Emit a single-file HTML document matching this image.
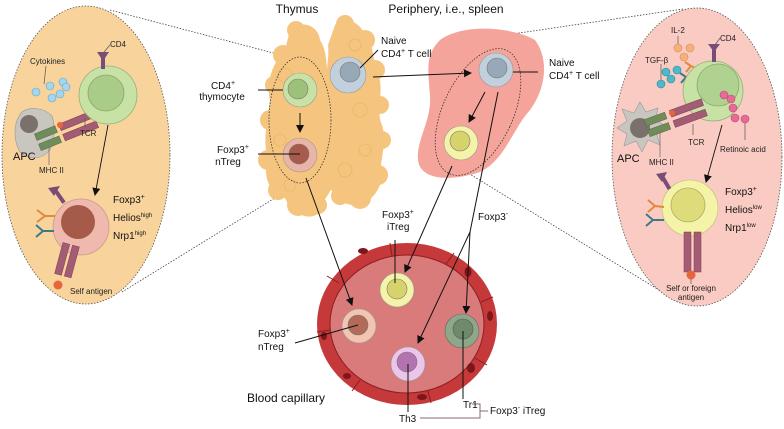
<!DOCTYPE html>
<html><head><meta charset="utf-8"><style>
html,body{margin:0;padding:0;background:#fff;}
svg{display:block;font-family:"Liberation Sans",sans-serif;}
</style></head><body>
<svg width="784" height="429" viewBox="0 0 784 429" xmlns="http://www.w3.org/2000/svg">
<defs>
<marker id="ah" markerWidth="8" markerHeight="8" refX="7" refY="4" orient="auto" markerUnits="userSpaceOnUse"><path d="M0,0 L8,4 L0,8 z" fill="#111"/></marker>
</defs>
<g stroke="#444" stroke-width="0.8" stroke-dasharray="1.5,1.5" fill="none">
<line x1="110" y1="10" x2="300" y2="60"/>
<line x1="122" y1="292" x2="296" y2="185"/>
<line x1="683" y1="9" x2="437" y2="45"/>
<line x1="672" y1="298" x2="455" y2="165"/>
</g>
<ellipse cx="86" cy="155" rx="84" ry="149" fill="#f8d49c" stroke="#555" stroke-width="0.8" stroke-dasharray="1.5,1.5"/>
<ellipse cx="697" cy="157" rx="85" ry="149" fill="#f9cbc2" stroke="#555" stroke-width="0.8" stroke-dasharray="1.5,1.5"/>

<g fill="#f5c57f">
<path d="M290,30 C300,20 318,24 320,40 C330,55 325,80 330,100 C335,120 330,150 335,170 C338,190 320,200 318,214 C305,222 290,210 285,198 C270,195 262,175 268,160 C262,140 268,120 270,100 C265,80 275,60 285,50 Z"/>
<path d="M335,25 C345,15 360,22 365,35 C375,45 372,60 378,75 C385,90 375,110 382,125 C388,145 378,165 380,185 C372,205 352,210 340,200 C330,195 325,175 330,160 C325,140 330,120 327,100 C323,80 330,60 328,45 Z"/>
<circle cx="296" cy="30" r="9"/><circle cx="283" cy="55" r="10"/><circle cx="274" cy="85" r="9"/><circle cx="270" cy="120" r="10"/><circle cx="268" cy="160" r="10"/><circle cx="278" cy="190" r="10"/><circle cx="298" cy="205" r="11"/><circle cx="318" cy="205" r="9"/>
<circle cx="345" cy="24" r="9"/><circle cx="365" cy="40" r="10"/><circle cx="375" cy="70" r="10"/><circle cx="380" cy="105" r="9"/><circle cx="382" cy="140" r="9"/><circle cx="378" cy="175" r="10"/><circle cx="360" cy="198" r="11"/><circle cx="340" cy="196" r="9"/>
</g>
<g fill="none" stroke="#eab466" stroke-width="0.8">
<circle cx="285" cy="75" r="7"/><circle cx="280" cy="140" r="6"/><circle cx="290" cy="185" r="6"/><circle cx="360" cy="110" r="7"/><circle cx="365" cy="150" r="6"/><circle cx="345" cy="170" r="7"/><circle cx="355" cy="45" r="6"/>
</g>
<path d="M440,40 C465,22 515,28 535,40 C550,60 545,90 530,110 C512,130 505,160 480,172 C450,182 420,180 418,160 C416,140 432,120 430,95 C428,70 425,55 440,40 Z" fill="#f4a49a"/>

<ellipse cx="300" cy="120" rx="31" ry="63" fill="none" stroke="#333" stroke-width="0.8" stroke-dasharray="1.5,1.5"/>
<ellipse cx="478" cy="112" rx="35" ry="68" transform="rotate(25 478 112)" fill="none" stroke="#333" stroke-width="0.8" stroke-dasharray="1.5,1.5"/>

<circle cx="300" cy="90" r="17" fill="#c8e2a6" stroke="#999" stroke-width="0.6"/><circle cx="298" cy="89" r="10" fill="#9dc07a" stroke="#777" stroke-width="0.6"/>
<circle cx="300" cy="155" r="17" fill="#eab4a6" stroke="#999" stroke-width="0.6"/><circle cx="299" cy="154" r="10" fill="#a85b4c" stroke="#777" stroke-width="0.6"/>
<circle cx="348" cy="75" r="18" fill="#c2d0de" stroke="#999" stroke-width="0.6"/><circle cx="350" cy="72" r="10" fill="#97a8b6" stroke="#777" stroke-width="0.6"/>
<circle cx="496" cy="70" r="17" fill="#c2d0de" stroke="#999" stroke-width="0.6"/><circle cx="497" cy="68" r="10" fill="#97a8b6" stroke="#777" stroke-width="0.6"/>
<circle cx="461" cy="143" r="17" fill="#f4f3a8" stroke="#999" stroke-width="0.6"/><circle cx="460" cy="141" r="10" fill="#d6d26c" stroke="#777" stroke-width="0.6"/>

<g stroke="#111" stroke-width="1" fill="none">
<line x1="300" y1="113" x2="300" y2="132" marker-end="url(#ah)"/>
<line x1="373" y1="77" x2="471" y2="73" marker-end="url(#ah)"/>
<line x1="485" y1="92" x2="469" y2="122" marker-end="url(#ah)"/>
<line x1="258" y1="90" x2="283" y2="90"/>
<line x1="258" y1="154" x2="300" y2="154"/>
<line x1="360" y1="68" x2="378" y2="50"/>
<line x1="513" y1="72" x2="538" y2="72"/>
</g>

<ellipse cx="407" cy="324" rx="90" ry="81" fill="#c5393a"/>
<ellipse cx="407" cy="324" rx="77" ry="69" fill="#d97b7a" stroke="#8d1e1f" stroke-width="1"/>
<g stroke="#8d1e1f" stroke-width="1" fill="none">
<path d="M339,283 L327,276"/><path d="M392,256 L390,243"/><path d="M446,264 L454,253"/><path d="M481,302 L493,297"/><path d="M475,358 L487,365"/><path d="M428,391 L431,403"/><path d="M360,380 L352,391"/><path d="M330,330 L317,332"/>
</g>
<g fill="#7c1618">
<ellipse cx="363" cy="251" rx="5" ry="3"/><ellipse cx="468" cy="272" rx="3.5" ry="5"/><ellipse cx="490" cy="316" rx="3" ry="5"/><ellipse cx="471" cy="368" rx="4" ry="5"/><ellipse cx="422" cy="397" rx="5" ry="3"/><ellipse cx="347" cy="376" rx="4" ry="3"/><ellipse cx="324" cy="336" rx="3" ry="4"/>
</g>
<circle cx="397" cy="290" r="17" fill="#f4f3a8" stroke="#999" stroke-width="0.6"/><circle cx="397" cy="289" r="10" fill="#d6d26c" stroke="#777" stroke-width="0.6"/>
<circle cx="359" cy="326" r="17" fill="#f2c4b2" stroke="#999" stroke-width="0.6"/><circle cx="358" cy="325" r="10" fill="#b46a59" stroke="#777" stroke-width="0.6"/>
<circle cx="462" cy="331" r="17" fill="#8ea789" stroke="#666" stroke-width="0.6"/><circle cx="463" cy="329" r="10" fill="#6f8a6a" stroke="#555" stroke-width="0.6"/>
<circle cx="408" cy="364" r="17" fill="#ebc6ea" stroke="#999" stroke-width="0.6"/><circle cx="407" cy="362" r="10" fill="#b373b0" stroke="#777" stroke-width="0.6"/>

<g stroke="#111" stroke-width="1" fill="none">
<line x1="306" y1="178" x2="352" y2="305" marker-end="url(#ah)"/>
<line x1="452" y1="166" x2="405" y2="272" marker-end="url(#ah)"/>
<line x1="498" y1="92" x2="470" y2="232"/>
<line x1="470" y1="232" x2="418" y2="343" marker-end="url(#ah)"/>
<line x1="470" y1="232" x2="466" y2="313" marker-end="url(#ah)"/>
<line x1="395" y1="240" x2="395" y2="283"/>
<line x1="295" y1="343" x2="358" y2="325"/>
<line x1="408" y1="364" x2="408" y2="412"/>
<line x1="463" y1="331" x2="463" y2="399"/>
</g>
<g stroke="#8a6a6a" stroke-width="1" fill="none">
<polyline points="472,404 480,404 480,418 478,418"/>
<polyline points="420,418 480,418"/>
<line x1="480" y1="411" x2="488" y2="411"/>
</g>

<g fill="#a5d6ee" stroke="#5aa7cc" stroke-width="0.6">
<circle cx="50" cy="86" r="4"/><circle cx="63" cy="82" r="4"/><circle cx="52" cy="98" r="4"/><circle cx="60" cy="94" r="4"/><circle cx="36" cy="92" r="4"/><circle cx="66" cy="87" r="4"/>
</g>
<line x1="46" y1="66" x2="44" y2="84" stroke="#555" stroke-width="0.7"/>
<text x="30" y="64" font-size="8" fill="#222">Cytokines</text>
<path d="M22,112 C30,106 45,108 52,116 C56,128 54,140 50,150 C42,160 28,160 20,152 C13,140 13,122 22,112 Z" fill="#c9c6c0" stroke="#999" stroke-width="0.6"/>
<circle cx="29" cy="124" r="9" fill="#7a716c"/>
<text x="13" y="160" font-size="11" fill="#111">APC</text>
<text x="39" y="173" font-size="8" fill="#222">MHC II</text>
<line x1="49" y1="165" x2="49" y2="140" stroke="#666" stroke-width="0.7"/>
<g transform="rotate(-22 66 132)">
<rect x="36" y="122" width="22" height="7" fill="#6f8c5a" stroke="#4f6a40" stroke-width="0.5"/>
<rect x="36" y="133" width="22" height="7" fill="#6f8c5a" stroke="#4f6a40" stroke-width="0.5"/>
<rect x="62" y="122" width="36" height="7" fill="#a45c75" stroke="#7a3a52" stroke-width="0.5"/>
<rect x="62" y="133" width="36" height="7" fill="#a45c75" stroke="#7a3a52" stroke-width="0.5"/>
</g>
<circle cx="60" cy="125" r="3" fill="#e8643a"/>
<circle cx="108" cy="95" r="29" fill="#c8e2a6" stroke="#94b07a" stroke-width="0.8"/>
<circle cx="106" cy="93" r="18" fill="#a9cc89" stroke="#88a66b" stroke-width="0.8"/>
<rect x="101" y="57" width="4" height="12" fill="#7a4d79"/>
<path d="M97,52 L109,52 L103,61 Z" fill="#7a4d79"/>
<line x1="104" y1="52" x2="110" y2="45" stroke="#555" stroke-width="0.7"/>
<text x="110" y="47" font-size="8" fill="#222">CD4</text>
<line x1="85" y1="118" x2="85" y2="127" stroke="#555" stroke-width="0.7"/>
<text x="80" y="136" font-size="8" fill="#222">TCR</text>
<line x1="108" y1="125" x2="95" y2="195" stroke="#111" stroke-width="0.9" marker-end="url(#ah)"/>
<circle cx="81" cy="227" r="28" fill="#f0b9ad" stroke="#c99a8e" stroke-width="0.8"/>
<circle cx="78" cy="222" r="17" fill="#a55a4a"/>
<rect x="58" y="190" width="4" height="14" transform="rotate(-35 60 197)" fill="#7a4d79"/>
<path d="M48,188 L60,186 L54,196 Z" fill="#7a4d79"/>
<path d="M37,210 L45,216 L37,222 M45,216 L55,216" stroke="#e08a3a" stroke-width="2" fill="none"/>
<path d="M36,225 L43,231 L36,237 M43,231 L54,231" stroke="#3d7a88" stroke-width="2" fill="none"/>
<g transform="rotate(15 66 262)">
<rect x="58" y="244" width="7" height="32" fill="#a45c75" stroke="#7a3a52" stroke-width="0.5"/>
<rect x="68" y="244" width="7" height="32" fill="#a45c75" stroke="#7a3a52" stroke-width="0.5"/>
</g>
<circle cx="58" cy="285" r="4.5" fill="#e8643a"/>
<text x="70" y="294" font-size="8" fill="#222">Self antigen</text>
<text x="113" y="203" font-size="10" fill="#111">Foxp3<tspan font-size="7" dy="-4">+</tspan></text>
<text x="113" y="221" font-size="10" fill="#111">Helios<tspan font-size="6" dy="-4">high</tspan></text>
<text x="113" y="239" font-size="10" fill="#111">Nrp1<tspan font-size="6" dy="-4">high</tspan></text>

<g fill="#f6b07c" stroke="#d58a55" stroke-width="0.6">
<circle cx="678" cy="48" r="4"/><circle cx="690" cy="48" r="4"/><circle cx="684" cy="57" r="4"/>
</g>
<line x1="678" y1="36" x2="678" y2="44" stroke="#555" stroke-width="0.7"/>
<text x="671" y="33" font-size="8" fill="#222">IL-2</text>
<g fill="#4eb9c9" stroke="#2b8a99" stroke-width="0.6">
<circle cx="666" cy="72" r="4"/><circle cx="677" cy="70" r="4"/><circle cx="671" cy="79" r="4"/><circle cx="661" cy="84" r="4"/>
</g>
<line x1="661" y1="64" x2="661" y2="80" stroke="#555" stroke-width="0.7"/>
<text x="645" y="63" font-size="8" fill="#222">TGF-β</text>
<path d="M685,62 L691,66 L686,72 M691,66 L698,69" stroke="#e08a3a" stroke-width="2" fill="none"/>
<path d="M680,73 L686,77 L681,83 M686,77 L695,80" stroke="#3d7a88" stroke-width="2" fill="none"/>
<circle cx="713" cy="91" r="30" fill="#c8e2a6" stroke="#94b07a" stroke-width="0.8"/>
<circle cx="718" cy="85" r="21" fill="#b0d291" stroke="#88a66b" stroke-width="0.8"/>
<rect x="712" y="48" width="4" height="14" fill="#7a4d79"/>
<path d="M708,44 L720,44 L714,52 Z" fill="#7a4d79"/>
<line x1="715" y1="45" x2="720" y2="38" stroke="#555" stroke-width="0.7"/>
<text x="720" y="41" font-size="8" fill="#222">CD4</text>
<g fill="#e86a96" stroke="#b84a72" stroke-width="0.6">
<circle cx="724" cy="95" r="4"/><circle cx="731" cy="99" r="4"/><circle cx="733" cy="108" r="4"/><circle cx="735" cy="118" r="4"/><circle cx="745" cy="119" r="4"/>
</g>
<line x1="745" y1="123" x2="745" y2="140" stroke="#555" stroke-width="0.7"/>
<text x="720" y="152" font-size="8" fill="#222">Retinoic acid</text>
<path d="M640,102 L646,112 L658,108 L655,120 L666,126 L656,132 L660,145 L648,140 L642,152 L636,141 L624,146 L627,134 L617,128 L627,121 L622,109 L634,113 Z" fill="#c9c6c0" stroke="#999" stroke-width="0.6"/>
<circle cx="640" cy="128" r="10" fill="#7a716c"/>
<text x="617" y="162" font-size="11" fill="#111">APC</text>
<text x="649" y="165" font-size="8" fill="#222">MHC II</text>
<line x1="660" y1="157" x2="660" y2="130" stroke="#666" stroke-width="0.7"/>
<g transform="rotate(-20 672 118)">
<rect x="645" y="110" width="22" height="7" fill="#6f8c5a" stroke="#4f6a40" stroke-width="0.5"/>
<rect x="645" y="121" width="22" height="7" fill="#6f8c5a" stroke="#4f6a40" stroke-width="0.5"/>
<rect x="672" y="110" width="34" height="7" fill="#a45c75" stroke="#7a3a52" stroke-width="0.5"/>
<rect x="672" y="121" width="34" height="7" fill="#a45c75" stroke="#7a3a52" stroke-width="0.5"/>
</g>
<circle cx="672" cy="113" r="3" fill="#e8643a"/>
<line x1="693" y1="124" x2="693" y2="135" stroke="#555" stroke-width="0.7"/>
<text x="688" y="145" font-size="8" fill="#222">TCR</text>
<line x1="722" y1="125" x2="706" y2="182" stroke="#111" stroke-width="0.9" marker-end="url(#ah)"/>
<circle cx="690" cy="208" r="28" fill="#f4f3a8" stroke="#c9c67e" stroke-width="0.8"/>
<circle cx="688" cy="205" r="17" fill="#dedb7a" stroke="#b0ad5a" stroke-width="0.8"/>
<rect x="664" y="176" width="4" height="14" transform="rotate(-30 666 183)" fill="#7a4d79"/>
<path d="M656,174 L667,172 L662,182 Z" fill="#7a4d79"/>
<path d="M648,200 L655,206 L648,212 M655,206 L664,207" stroke="#e08a3a" stroke-width="2" fill="none"/>
<path d="M646,214 L653,220 L646,226 M653,220 L664,220" stroke="#3d7a88" stroke-width="2" fill="none"/>
<rect x="684" y="232" width="7" height="40" fill="#a45c75" stroke="#7a3a52" stroke-width="0.5"/>
<rect x="694" y="232" width="7" height="40" fill="#a45c75" stroke="#7a3a52" stroke-width="0.5"/>
<circle cx="691" cy="275" r="4.5" fill="#e8643a"/>
<line x1="691" y1="279" x2="691" y2="284" stroke="#555" stroke-width="0.7"/>
<text x="691" y="291" font-size="8" fill="#222" text-anchor="middle">Self or foreign</text>
<text x="691" y="300" font-size="8" fill="#222" text-anchor="middle">antigen</text>
<text x="725" y="195" font-size="10" fill="#111">Foxp3<tspan font-size="7" dy="-4">+</tspan></text>
<text x="725" y="213" font-size="10" fill="#111">Helios<tspan font-size="6" dy="-4">low</tspan></text>
<text x="725" y="231" font-size="10" fill="#111">Nrp1<tspan font-size="6" dy="-4">low</tspan></text>

<text x="297" y="13" font-size="12" fill="#111" text-anchor="middle">Thymus</text>
<text x="446" y="13" font-size="12" fill="#111" text-anchor="middle">Periphery, i.e., spleen</text>
<text x="223" y="89" font-size="10" fill="#111" text-anchor="middle">CD4<tspan font-size="7" dy="-4">+</tspan></text>
<text x="222" y="100" font-size="10" fill="#111" text-anchor="middle">thymocyte</text>
<text x="233" y="153" font-size="10" fill="#111" text-anchor="middle">Foxp3<tspan font-size="7" dy="-4">+</tspan></text>
<text x="228" y="165" font-size="10" fill="#111" text-anchor="middle">nTreg</text>
<text x="381" y="44" font-size="10" fill="#111">Naive</text>
<text x="381" y="57" font-size="10" fill="#111">CD4<tspan font-size="7" dy="-4">+</tspan><tspan dy="4"> T cell</tspan></text>
<text x="549" y="66" font-size="10" fill="#111">Naive</text>
<text x="549" y="79" font-size="10" fill="#111">CD4<tspan font-size="7" dy="-4">+</tspan><tspan dy="4"> T cell</tspan></text>
<text x="382" y="218" font-size="10" fill="#111">Foxp3<tspan font-size="7" dy="-4">+</tspan></text>
<text x="387" y="230" font-size="10" fill="#111">iTreg</text>
<text x="478" y="220" font-size="10" fill="#111">Foxp3<tspan font-size="7" dy="-4">-</tspan></text>
<text x="258" y="337" font-size="10" fill="#111">Foxp3<tspan font-size="7" dy="-4">+</tspan></text>
<text x="258" y="350" font-size="10" fill="#111">nTreg</text>
<text x="247" y="402" font-size="12" fill="#111">Blood capillary</text>
<text x="463" y="408" font-size="10" fill="#111">Tr1</text>
<text x="399" y="422" font-size="10" fill="#111">Th3</text>
<text x="490" y="414" font-size="10" fill="#111">Foxp3<tspan font-size="7" dy="-4">-</tspan><tspan dy="4"> iTreg</tspan></text>
</svg>
</body></html>
